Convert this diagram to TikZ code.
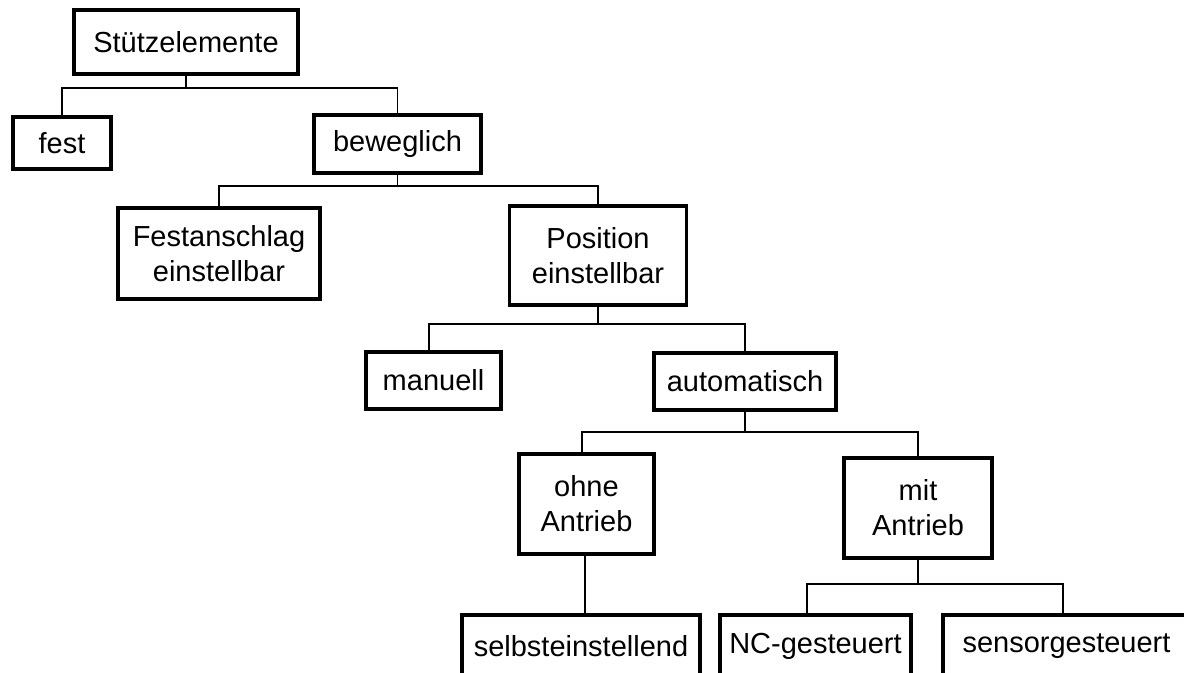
\documentclass[tikz,border=0pt]{standalone}
\usepackage{fontspec}
\setmainfont{Liberation Sans}
\usepackage{tikz}
\usetikzlibrary{positioning}

\begin{document}
\begin{tikzpicture}[
    x=0.5pt, y=-0.5pt,
    node distance=20pt,
    box/.style={rectangle, draw, line width=1.6pt, outer sep=0pt, inner sep=0pt, align=center, font=\fontsize{14.5pt}{17.5pt}\selectfont},
    link/.style={line width=0.6pt},
]
    \useasboundingbox (0,0) rectangle (1184,673);
    \clip (0,0) rectangle (1184,673);

    \node[box, minimum width=112pt, minimum height=32pt] (stuetz) at (186,42) {Stützelemente};
    \node[box, minimum width=49pt, minimum height=26pt, below=21.5pt of stuetz, xshift=-62pt] (fest) {fest};
    \node[box, minimum width=83.5pt, minimum height=29pt, below=20.5pt of stuetz, xshift=105.75pt] (bewegl) {beweglich};
    \node[box, minimum width=101pt, minimum height=45.5pt, below=17.5pt of bewegl, xshift=-89.25pt] (festan) {Festanschlag\\einstellbar};
    \node[box, minimum width=88.5pt, minimum height=49.5pt, below=16.5pt of bewegl, xshift=100.25pt] (posein) {Position\\einstellbar};
    \node[box, minimum width=67.5pt, minimum height=28.5pt, below=23.5pt of posein, xshift=-82.25pt] (manuell) {manuell};
    \node[box, minimum width=91pt, minimum height=28.5pt, below=24pt of posein, xshift=73.5pt] (auto) {automatisch};
    \node[box, minimum width=67.5pt, minimum height=50pt, below=22pt of auto, xshift=-79.25pt] (ohne) {ohne\\Antrieb};
    \node[box, minimum width=74pt, minimum height=50pt, below=24pt of auto, xshift=86.5pt] (mit) {mit\\Antrieb};
    \node[box, minimum width=119pt, minimum height=31pt, below=30.5pt of ohne, xshift=-2.75pt] (selbst) {selbsteinstellend};
    \node[box, minimum width=95.5pt, minimum height=31pt, below=28.5pt of mit, xshift=-51.25pt] (ncgest) {NC-gesteuert};
    \node[box, minimum width=123.5pt, minimum height=31pt, below=28.5pt of mit, xshift=74.25pt] (sensor) {sensorgesteuert};

    % tree connectors
    \draw[link] (stuetz.south) -- ++(0,14) -| (fest.north);
    \draw[link] (stuetz.south) -- ++(0,14) -| (bewegl.north);
    \draw[link] (bewegl.south) -- ++(0,13) -| (festan.north);
    \draw[link] (bewegl.south) -- ++(0,13) -| (posein.north);
    \draw[link] (posein.south) -- ++(0,19) -| ([xshift=-2.25pt]manuell.north);
    \draw[link] (posein.south) -- ++(0,19) -| (auto.north);
    \draw[link] (auto.south) -- ++(0,22) -| ([xshift=-2.25pt]ohne.north);
    \draw[link] (auto.south) -- ++(0,22) -| (mit.north);
    \draw[link] ([xshift=-0.75pt]ohne.south) -- ([xshift=-0.75pt]ohne.south |- selbst.north);
    \draw[link] (mit.south) -- ++(0,26) -| ([xshift=-4.25pt]ncgest.north);
    \draw[link] (mit.south) -- ++(0,26) -| ([xshift=-1.75pt]sensor.north);
\end{tikzpicture}
\end{document}
